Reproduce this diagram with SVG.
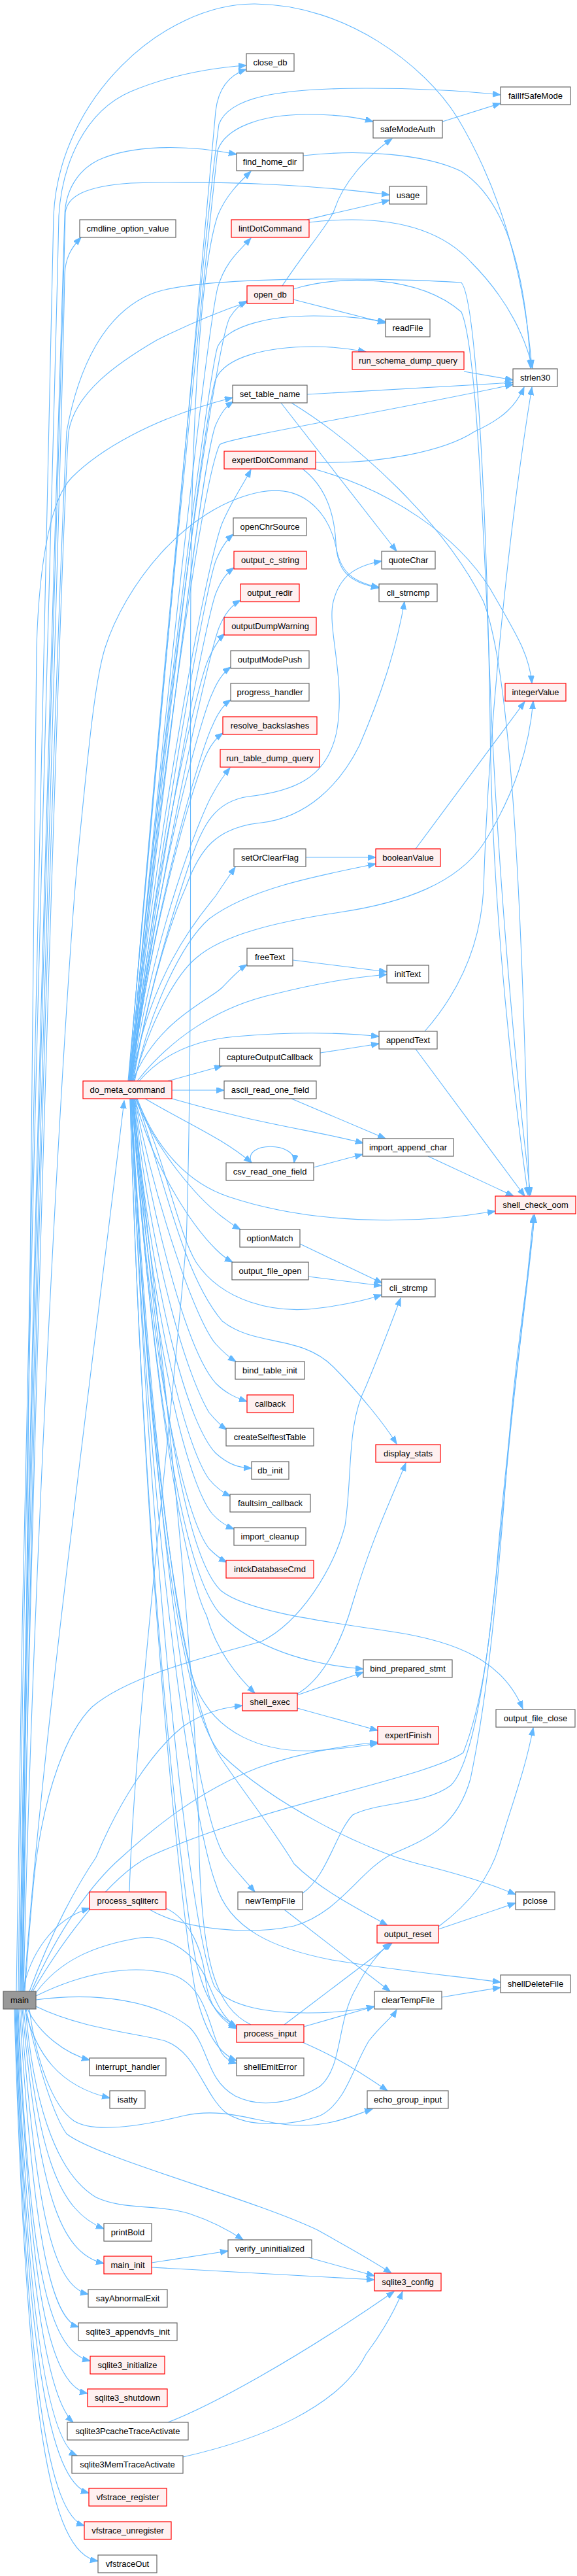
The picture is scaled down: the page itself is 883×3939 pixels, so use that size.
<svg xmlns="http://www.w3.org/2000/svg" width="883" height="3939" viewBox="0 0 883 3939">
<style>
.n{fill:#ffffff;stroke:#666666;stroke-width:1.2}
.r{fill:#fff0f0;stroke:#ff0000;stroke-width:1.2}
.m{fill:#999999;stroke:#666666;stroke-width:1.2}
text{font-family:"Liberation Sans",Arial,sans-serif;font-size:13px;fill:#000000;text-anchor:middle}
.e path{fill:none;stroke:#63b8ff;stroke-width:1.1;marker-end:url(#a)}
</style>
<defs>
<marker id="a" markerWidth="13" markerHeight="10" refX="12" refY="4.5" orient="auto" markerUnits="userSpaceOnUse">
<path d="M0,0 L12,4.5 L0,9 z" fill="#63b8ff" stroke="#63b8ff" stroke-width="1"/>
</marker>
</defs>
<rect width="883" height="3939" fill="#ffffff"/>
<g id="edges" class="e">
<path d="M25,3045 C40,2000 70,800 82,330 C90,150 250,5 390,6 C530,7 650,100 700,180 C760,280 800,400 814,562"/>
<path d="M28,3045 C40,2000 80,800 90,330 C95,250 130,170 200,140 C260,115 320,104 377,100"/>
<path d="M30,3045 C45,2000 85,800 99,330 C100,290 120,260 150,245 C200,222 280,220 362,236"/>
<path d="M31,3045 C46,2000 88,800 100,325 C103,300 130,285 200,280 C350,275 500,285 596,298"/>
<path d="M32,3045 C48,2000 90,900 99,420 C100,395 108,380 124,363"/>
<path d="M33,3045 C50,2200 95,800 105,660 C115,600 180,555 240,520 C300,490 340,475 378,462"/>
<path d="M34,3045 C45,2200 50,1300 56,990 C60,850 80,760 110,730 C150,690 230,640 356,608"/>
<path d="M35,3045 C50,2000 90,900 102,660 C120,560 160,480 230,450 C300,420 600,425 706,432 C730,460 745,800 750,1100 C752,1400 790,1700 808,1827"/>
<path d="M36,3045 C50,2400 100,1500 120,1300 C135,1150 145,1040 161,990 C190,900 280,775 400,752 C470,740 505,790 515,840 C522,875 540,890 580,898"/>
<path d="M37,3045 C60,2700 140,2100 190,1683"/>
<path d="M38,3045 C45,2950 50,2880 56,2840 C70,2740 100,2650 141,2610 C200,2560 330,2530 400,2510 C460,2480 510,2400 528,2333 C540,2250 530,2180 560,2120 C585,2060 600,2020 613,1985"/>
<path d="M45,3045 C80,2950 120,2880 147,2840 C180,2760 230,2680 280,2640 C310,2620 335,2612 371,2608"/>
<path d="M48,3045 C90,2950 140,2880 186,2840 C230,2800 300,2740 395,2703 C460,2680 520,2670 578,2664"/>
<path d="M50,3045 C100,2960 170,2870 226,2840 C400,2760 650,2720 709,2680 C740,2600 750,2500 760,2400 C775,2200 805,2000 816,1858"/>
<path d="M35,3045 C45,2990 80,2935 137,2918"/>
<path d="M55,3047 C90,3000 140,2975 215,2963 C260,2958 300,2990 316,3027 C330,3060 340,3085 362,3100"/>
<path d="M55,3052 C120,3020 200,3000 265,3020 C320,3040 320,3110 340,3140 C345,3148 352,3152 362,3155"/>
<path d="M55,3058 C150,3045 240,3060 290,3100 C320,3130 315,3180 360,3205 C400,3225 450,3215 490,3190 C525,3160 515,3090 545,3040 C560,3010 580,2985 597,2971"/>
<path d="M55,3068 C120,3100 200,3108 250,3120 C300,3135 310,3200 345,3230 C380,3255 450,3250 490,3235 C530,3215 540,3160 565,3120 C585,3095 600,3085 607,3073"/>
<path d="M45,3072 C55,3150 80,3220 113,3243 C140,3260 200,3255 282,3235 C350,3220 400,3250 460,3250 C510,3250 540,3235 570,3225"/>
<path d="M42,3072 C60,3110 100,3140 137,3150"/>
<path d="M38,3072 C55,3140 90,3190 168,3208"/>
<path d="M40,3072 C60,3170 85,3240 102,3263 C150,3300 380,3360 486,3410 C540,3440 575,3460 599,3476"/>
<path d="M39,3072 C50,3200 80,3320 147,3360 C190,3380 240,3370 290,3385 C320,3395 350,3410 372,3425"/>
<path d="M36,3072 C60,3300 90,3380 159,3408"/>
<path d="M34,3072 C60,3350 90,3445 159,3461"/>
<path d="M32,3072 C55,3380 80,3495 135,3508"/>
<path d="M30,3072 C50,3400 75,3545 120,3558"/>
<path d="M28,3072 C45,3450 70,3595 138,3610"/>
<path d="M27,3072 C45,3480 70,3645 134,3660"/>
<path d="M26,3072 C40,3500 75,3670 112,3704"/>
<path d="M25,3072 C40,3550 75,3735 118,3755"/>
<path d="M24,3072 C40,3600 75,3795 136,3812"/>
<path d="M23,3072 C40,3650 75,3845 129,3862"/>
<path d="M22,3072 C40,3700 75,3905 150,3916"/>
<path d="M196,1653 C260,900 318,330 330,170 C334,135 350,115 377,106"/>
<path d="M197,1653 C250,1000 320,300 335,190 C350,150 420,135 560,135 C660,135 720,140 766,145"/>
<path d="M197,1653 C250,1000 320,350 333,230 C345,195 400,175 470,175 C520,175 550,180 571,186"/>
<path d="M198,1653 C250,1100 315,520 333,440 C345,400 365,385 384,364"/>
<path d="M198,1653 C250,1100 330,520 352,485 C360,472 368,466 378,460"/>
<path d="M198,1653 C250,1100 320,570 333,530 C350,495 420,483 480,483 C530,483 560,487 590,492"/>
<path d="M199,1653 C250,1150 315,620 330,580 C345,545 410,530 480,530 C510,530 535,533 560,538"/>
<path d="M199,1653 C250,1200 310,700 330,650 C338,632 345,622 357,614"/>
<path d="M199,1653 C250,1150 310,740 336,680 C345,670 600,628 785,588"/>
<path d="M199,1653 C250,1200 320,850 340,800 C355,765 370,745 384,718"/>
<path d="M200,1653 C250,1250 315,900 330,858 C338,838 346,826 357,817"/>
<path d="M200,1653 C250,1280 315,950 330,908 C338,888 346,877 358,868"/>
<path d="M200,1653 C250,1300 320,1000 335,960 C343,940 355,925 368,918"/>
<path d="M200,1653 C240,1300 305,1040 318,1010 C326,992 334,978 344,969"/>
<path d="M201,1653 C240,1330 310,1090 325,1060 C332,1043 342,1028 353,1020"/>
<path d="M201,1653 C240,1360 310,1140 325,1110 C332,1093 342,1078 353,1070"/>
<path d="M201,1653 C235,1390 300,1190 313,1160 C320,1143 330,1129 341,1121"/>
<path d="M202,1653 C235,1420 310,1240 325,1215 C333,1200 343,1185 352,1174"/>
<path d="M202,1653 C230,1480 315,1390 330,1370 C340,1355 350,1340 360,1326"/>
<path d="M203,1653 C240,1560 320,1530 340,1510 C355,1495 365,1483 378,1475"/>
<path d="M257,1653 L340,1630"/>
<path d="M263,1667 L343,1667"/>
<path d="M203,1653 C230,1500 270,1380 290,1320 C310,1260 330,1225 380,1218 C450,1210 500,1190 515,1120 C530,1040 500,960 510,920 C520,880 545,865 584,858"/>
<path d="M204,1653 C230,1500 265,1400 285,1355 C305,1300 330,1265 400,1258 C470,1250 520,1200 550,1140 C580,1070 605,1000 619,920"/>
<path d="M205,1653 C230,1560 270,1490 300,1465 C340,1430 420,1410 520,1395 C620,1380 700,1350 740,1290 C790,1210 810,1140 816,1072"/>
<path d="M206,1653 C230,1540 280,1440 320,1405 C380,1360 480,1340 575,1321"/>
<path d="M210,1653 C260,1590 330,1540 420,1520 C500,1500 550,1494 592,1490"/>
<path d="M213,1653 C250,1610 300,1590 360,1585 C440,1578 520,1578 580,1585"/>
<path d="M263,1680 C400,1720 480,1728 556,1748"/>
<path d="M222,1680 C290,1720 340,1740 385,1778"/>
<path d="M210,1680 C240,1760 290,1810 350,1830 C470,1870 620,1875 758,1852"/>
<path d="M207,1680 C240,1760 300,1830 339,1860 C350,1868 357,1874 368,1880"/>
<path d="M206,1680 C240,1800 300,1880 330,1910 C338,1918 345,1924 356,1930"/>
<path d="M208,1680 C250,1760 270,1880 300,1930 C340,1990 420,2010 490,2000 C530,1995 560,1988 584,1980"/>
<path d="M206,1680 C240,1850 300,2020 330,2055 C340,2066 350,2075 361,2082"/>
<path d="M205,1680 C240,1900 290,2070 330,2115 C345,2130 360,2137 378,2143"/>
<path d="M205,1680 C235,1950 290,2110 320,2160 C330,2172 338,2180 347,2186"/>
<path d="M204,1680 C235,2000 290,2180 330,2222 C350,2240 365,2244 385,2245"/>
<path d="M204,1680 C235,2050 290,2220 320,2262 C330,2274 340,2282 353,2288"/>
<path d="M203,1680 C235,2100 295,2280 325,2315 C335,2326 345,2333 358,2338"/>
<path d="M203,1680 C235,2150 290,2330 320,2368 C330,2378 338,2384 347,2389"/>
<path d="M209,1680 C250,1800 280,1950 340,2020 C390,2060 460,2040 510,2090 C550,2130 590,2180 607,2208"/>
<path d="M202,1680 C240,2200 290,2420 339,2470 C390,2520 470,2545 556,2552"/>
<path d="M202,1680 C240,2200 290,2420 316,2470 C330,2520 360,2560 390,2589"/>
<path d="M201,1680 C230,2200 270,2500 300,2580 C330,2650 400,2680 480,2677 C520,2675 550,2670 578,2666"/>
<path d="M204,1680 C240,2100 280,2380 339,2433 C380,2465 500,2480 600,2495 C700,2510 770,2540 800,2613"/>
<path d="M201,1680 C230,2300 300,2780 345,2840 C360,2860 375,2875 390,2893"/>
<path d="M201,1680 C230,2300 290,2620 339,2690 C380,2750 420,2800 450,2850 C490,2890 550,2920 593,2944"/>
<path d="M201,1680 C230,2300 280,2620 339,2683 C420,2760 560,2830 640,2850 C700,2865 750,2880 789,2897"/>
<path d="M200,1680 C230,2400 290,2950 328,3037 C345,3065 400,3078 470,3078 C520,3078 550,3073 573,3068"/>
<path d="M200,1680 C230,2400 300,2800 330,2880 C350,2950 420,2980 508,2997 C620,3015 700,3022 766,3031"/>
<path d="M199,1680 C220,2400 280,2900 300,3000 C315,3060 330,3080 362,3099"/>
<path d="M199,1680 C220,2400 280,2950 300,3050 C315,3110 335,3140 362,3151"/>
<path d="M677,186 L766,158"/>
<path d="M432,437 C470,380 505,340 512,320 C525,280 560,240 600,212"/>
<path d="M449,458 L590,494"/>
<path d="M449,442 C520,420 640,420 706,477 C725,520 735,700 748,990 C758,1300 790,1650 812,1827"/>
<path d="M464,238 C550,228 650,235 706,262 C780,310 805,430 812,563"/>
<path d="M473,340 C560,330 660,335 720,400 C780,460 805,520 815,563"/>
<path d="M470,336 C500,328 550,318 596,306"/>
<path d="M710,568 L785,581"/>
<path d="M470,603 L785,585"/>
<path d="M430,616 L607,843"/>
<path d="M446,616 C550,680 680,800 740,920 C790,1050 800,1500 810,1828"/>
<path d="M483,707 C580,710 680,690 726,660 C770,640 790,620 802,592"/>
<path d="M463,717 C500,745 512,790 514,830 C516,870 530,890 580,899"/>
<path d="M480,717 C600,750 700,820 750,900 C790,970 810,1000 814,1045"/>
<path d="M636,1298 L803,1073"/>
<path d="M468,1311 L575,1311"/>
<path d="M448,1468 L592,1486"/>
<path d="M490,1610 L580,1596"/>
<path d="M650,1577 C700,1520 735,1450 740,1360 C748,1100 780,800 814,592"/>
<path d="M636,1604 L803,1829"/>
<path d="M446,1680 L590,1741"/>
<path d="M385,1778 C370,1745 455,1745 450,1778"/>
<path d="M480,1785 L555,1765"/>
<path d="M655,1768 L786,1829"/>
<path d="M459,1902 L585,1962"/>
<path d="M472,1952 L584,1966"/>
<path d="M198,2893 C205,2650 260,2200 285,1900 C295,1600 290,1200 292,900 C294,600 310,400 333,330 C345,300 365,280 384,262"/>
<path d="M229,2920 C280,2950 380,2960 450,2945 C520,2925 550,2860 600,2835 C660,2810 700,2790 720,2720 C745,2600 760,2450 775,2250 C790,2050 810,1950 818,1858"/>
<path d="M254,2918 C290,2935 310,2980 315,3030 C320,3070 340,3090 362,3102"/>
<path d="M435,2920 L597,3045"/>
<path d="M463,2895 C500,2870 515,2800 540,2775 C580,2755 650,2760 690,2730 C740,2680 760,2400 780,2200 C795,2050 810,1950 818,1858"/>
<path d="M671,2950 L789,2910"/>
<path d="M671,2946 C720,2910 750,2870 765,2820 C790,2740 805,2700 816,2642"/>
<path d="M435,3096 L600,2971"/>
<path d="M465,3099 L573,3068"/>
<path d="M463,3123 C490,3135 525,3150 593,3197"/>
<path d="M384,3096 C330,3070 310,3000 305,2840 C300,2500 240,2000 203,1681"/>
<path d="M455,2592 L556,2557"/>
<path d="M455,2612 L578,2646"/>
<path d="M455,2590 C490,2570 520,2520 540,2450 C570,2350 600,2290 621,2237"/>
<path d="M676,3054 L766,3039"/>
<path d="M232,3460 L349,3442"/>
<path d="M232,3467 L573,3486"/>
<path d="M472,3452 L573,3480"/>
<path d="M257,3704 C320,3680 450,3610 603,3504"/>
<path d="M280,3757 C400,3730 520,3680 560,3600 C590,3560 605,3530 616,3504"/>
</g>
<g id="main"><rect class="m" x="5" y="3045" width="50" height="27"/><text x="30" y="3063">main</text></g>
<g id="cmdline_option_value"><rect class="n" x="122" y="336" width="147" height="27"/><text x="195.5" y="354">cmdline_option_value</text></g>
<g id="do_meta_command"><rect class="r" x="127" y="1653" width="136" height="27"/><text x="195" y="1671">do_meta_command</text></g>
<g id="process_sqliterc"><rect class="r" x="137" y="2893" width="117" height="27"/><text x="195.5" y="2911">process_sqliterc</text></g>
<g id="interrupt_handler"><rect class="n" x="137" y="3147" width="117" height="27"/><text x="195.5" y="3165">interrupt_handler</text></g>
<g id="isatty"><rect class="n" x="168" y="3197" width="54" height="27"/><text x="195" y="3215">isatty</text></g>
<g id="printBold"><rect class="n" x="159" y="3400" width="73" height="27"/><text x="195.5" y="3418">printBold</text></g>
<g id="main_init"><rect class="r" x="159" y="3450" width="73" height="27"/><text x="195.5" y="3468">main_init</text></g>
<g id="sayAbnormalExit"><rect class="n" x="135" y="3501" width="121" height="27"/><text x="195.5" y="3519">sayAbnormalExit</text></g>
<g id="sqlite3_appendvfs_init"><rect class="n" x="120" y="3552" width="151" height="27"/><text x="195.5" y="3570">sqlite3_appendvfs_init</text></g>
<g id="sqlite3_initialize"><rect class="r" x="138" y="3603" width="114" height="27"/><text x="195" y="3621">sqlite3_initialize</text></g>
<g id="sqlite3_shutdown"><rect class="r" x="134" y="3653" width="122" height="27"/><text x="195" y="3671">sqlite3_shutdown</text></g>
<g id="sqlite3PcacheTraceActivate"><rect class="n" x="103" y="3704" width="185" height="27"/><text x="195.5" y="3722">sqlite3PcacheTraceActivate</text></g>
<g id="sqlite3MemTraceActivate"><rect class="n" x="110" y="3755" width="170" height="27"/><text x="195" y="3773">sqlite3MemTraceActivate</text></g>
<g id="vfstrace_register"><rect class="r" x="136" y="3805" width="119" height="27"/><text x="195.5" y="3823">vfstrace_register</text></g>
<g id="vfstrace_unregister"><rect class="r" x="129" y="3856" width="133" height="27"/><text x="195.5" y="3874">vfstrace_unregister</text></g>
<g id="vfstraceOut"><rect class="n" x="150" y="3907" width="90" height="27"/><text x="195" y="3925">vfstraceOut</text></g>
<g id="close_db"><rect class="n" x="377" y="82" width="73" height="27"/><text x="413.5" y="100">close_db</text></g>
<g id="find_home_dir"><rect class="n" x="362" y="234" width="102" height="27"/><text x="413" y="252">find_home_dir</text></g>
<g id="lintDotCommand"><rect class="r" x="354" y="336" width="119" height="27"/><text x="413.5" y="354">lintDotCommand</text></g>
<g id="open_db"><rect class="r" x="378" y="437" width="71" height="27"/><text x="413.5" y="455">open_db</text></g>
<g id="set_table_name"><rect class="n" x="356" y="589" width="114" height="27"/><text x="413" y="607">set_table_name</text></g>
<g id="expertDotCommand"><rect class="r" x="343" y="690" width="140" height="27"/><text x="413" y="708">expertDotCommand</text></g>
<g id="openChrSource"><rect class="n" x="357" y="792" width="112" height="27"/><text x="413" y="810">openChrSource</text></g>
<g id="output_c_string"><rect class="r" x="358" y="843" width="111" height="27"/><text x="413.5" y="861">output_c_string</text></g>
<g id="output_redir"><rect class="r" x="368" y="893" width="90" height="27"/><text x="413" y="911">output_redir</text></g>
<g id="outputDumpWarning"><rect class="r" x="343" y="944" width="141" height="27"/><text x="413.5" y="962">outputDumpWarning</text></g>
<g id="outputModePush"><rect class="n" x="353" y="995" width="120" height="27"/><text x="413" y="1013">outputModePush</text></g>
<g id="progress_handler"><rect class="n" x="353" y="1045" width="120" height="27"/><text x="413" y="1063">progress_handler</text></g>
<g id="resolve_backslashes"><rect class="r" x="341" y="1096" width="144" height="27"/><text x="413" y="1114">resolve_backslashes</text></g>
<g id="run_table_dump_query"><rect class="r" x="337" y="1146" width="152" height="27"/><text x="413" y="1164">run_table_dump_query</text></g>
<g id="setOrClearFlag"><rect class="n" x="358" y="1298" width="110" height="27"/><text x="413" y="1316">setOrClearFlag</text></g>
<g id="freeText"><rect class="n" x="378" y="1450" width="70" height="27"/><text x="413" y="1468">freeText</text></g>
<g id="captureOutputCallback"><rect class="n" x="336" y="1603" width="154" height="27"/><text x="413" y="1621">captureOutputCallback</text></g>
<g id="ascii_read_one_field"><rect class="n" x="343" y="1653" width="141" height="27"/><text x="413.5" y="1671">ascii_read_one_field</text></g>
<g id="csv_read_one_field"><rect class="n" x="346" y="1778" width="134" height="27"/><text x="413" y="1796">csv_read_one_field</text></g>
<g id="optionMatch"><rect class="n" x="367" y="1880" width="92" height="27"/><text x="413" y="1898">optionMatch</text></g>
<g id="output_file_open"><rect class="n" x="355" y="1930" width="117" height="27"/><text x="413.5" y="1948">output_file_open</text></g>
<g id="bind_table_init"><rect class="n" x="360" y="2082" width="106" height="27"/><text x="413" y="2100">bind_table_init</text></g>
<g id="callback"><rect class="r" x="378" y="2133" width="71" height="27"/><text x="413.5" y="2151">callback</text></g>
<g id="createSelftestTable"><rect class="n" x="346" y="2184" width="134" height="27"/><text x="413" y="2202">createSelftestTable</text></g>
<g id="db_init"><rect class="n" x="385" y="2235" width="57" height="27"/><text x="413.5" y="2253">db_init</text></g>
<g id="faultsim_callback"><rect class="n" x="352" y="2285" width="123" height="27"/><text x="413.5" y="2303">faultsim_callback</text></g>
<g id="import_cleanup"><rect class="n" x="358" y="2336" width="110" height="27"/><text x="413" y="2354">import_cleanup</text></g>
<g id="intckDatabaseCmd"><rect class="r" x="346" y="2386" width="134" height="27"/><text x="413" y="2404">intckDatabaseCmd</text></g>
<g id="shell_exec"><rect class="r" x="371" y="2589" width="84" height="27"/><text x="413" y="2607">shell_exec</text></g>
<g id="newTempFile"><rect class="n" x="364" y="2893" width="99" height="27"/><text x="413.5" y="2911">newTempFile</text></g>
<g id="process_input"><rect class="r" x="362" y="3096" width="103" height="27"/><text x="413.5" y="3114">process_input</text></g>
<g id="shellEmitError"><rect class="n" x="362" y="3147" width="103" height="27"/><text x="413.5" y="3165">shellEmitError</text></g>
<g id="verify_uninitialized"><rect class="n" x="349" y="3425" width="128" height="27"/><text x="413" y="3443">verify_uninitialized</text></g>
<g id="safeModeAuth"><rect class="n" x="571" y="184" width="106" height="27"/><text x="624" y="202">safeModeAuth</text></g>
<g id="usage"><rect class="n" x="596" y="285" width="57" height="27"/><text x="624.5" y="303">usage</text></g>
<g id="readFile"><rect class="n" x="590" y="488" width="68" height="27"/><text x="624" y="506">readFile</text></g>
<g id="run_schema_dump_query"><rect class="r" x="539" y="538" width="171" height="27"/><text x="624.5" y="556">run_schema_dump_query</text></g>
<g id="quoteChar"><rect class="n" x="584" y="843" width="82" height="27"/><text x="625" y="861">quoteChar</text></g>
<g id="cli_strncmp"><rect class="n" x="580" y="893" width="89" height="27"/><text x="624.5" y="911">cli_strncmp</text></g>
<g id="booleanValue"><rect class="r" x="575" y="1298" width="99" height="27"/><text x="624.5" y="1316">booleanValue</text></g>
<g id="initText"><rect class="n" x="592" y="1476" width="64" height="27"/><text x="624" y="1494">initText</text></g>
<g id="appendText"><rect class="n" x="580" y="1577" width="89" height="27"/><text x="624.5" y="1595">appendText</text></g>
<g id="import_append_char"><rect class="n" x="555" y="1741" width="139" height="27"/><text x="624.5" y="1759">import_append_char</text></g>
<g id="cli_strcmp"><rect class="n" x="584" y="1956" width="82" height="27"/><text x="625" y="1974">cli_strcmp</text></g>
<g id="display_stats"><rect class="r" x="575" y="2209" width="99" height="27"/><text x="624.5" y="2227">display_stats</text></g>
<g id="bind_prepared_stmt"><rect class="n" x="556" y="2538" width="136" height="27"/><text x="624" y="2556">bind_prepared_stmt</text></g>
<g id="expertFinish"><rect class="r" x="578" y="2640" width="93" height="27"/><text x="624.5" y="2658">expertFinish</text></g>
<g id="output_reset"><rect class="r" x="577" y="2944" width="94" height="27"/><text x="624" y="2962">output_reset</text></g>
<g id="clearTempFile"><rect class="n" x="573" y="3045" width="103" height="27"/><text x="624.5" y="3063">clearTempFile</text></g>
<g id="echo_group_input"><rect class="n" x="562" y="3197" width="124" height="27"/><text x="624" y="3215">echo_group_input</text></g>
<g id="sqlite3_config"><rect class="r" x="573" y="3476" width="102" height="27"/><text x="624" y="3494">sqlite3_config</text></g>
<g id="failIfSafeMode"><rect class="n" x="766" y="133" width="107" height="27"/><text x="819.5" y="151">failIfSafeMode</text></g>
<g id="strlen30"><rect class="n" x="785" y="564" width="68" height="27"/><text x="819" y="582">strlen30</text></g>
<g id="integerValue"><rect class="r" x="773" y="1045" width="93" height="27"/><text x="819.5" y="1063">integerValue</text></g>
<g id="shell_check_oom"><rect class="r" x="758" y="1829" width="123" height="27"/><text x="819.5" y="1847">shell_check_oom</text></g>
<g id="output_file_close"><rect class="n" x="759" y="2614" width="121" height="27"/><text x="819.5" y="2632">output_file_close</text></g>
<g id="pclose"><rect class="n" x="789" y="2893" width="60" height="27"/><text x="819" y="2911">pclose</text></g>
<g id="shellDeleteFile"><rect class="n" x="766" y="3020" width="107" height="27"/><text x="819.5" y="3038">shellDeleteFile</text></g>
</svg>
